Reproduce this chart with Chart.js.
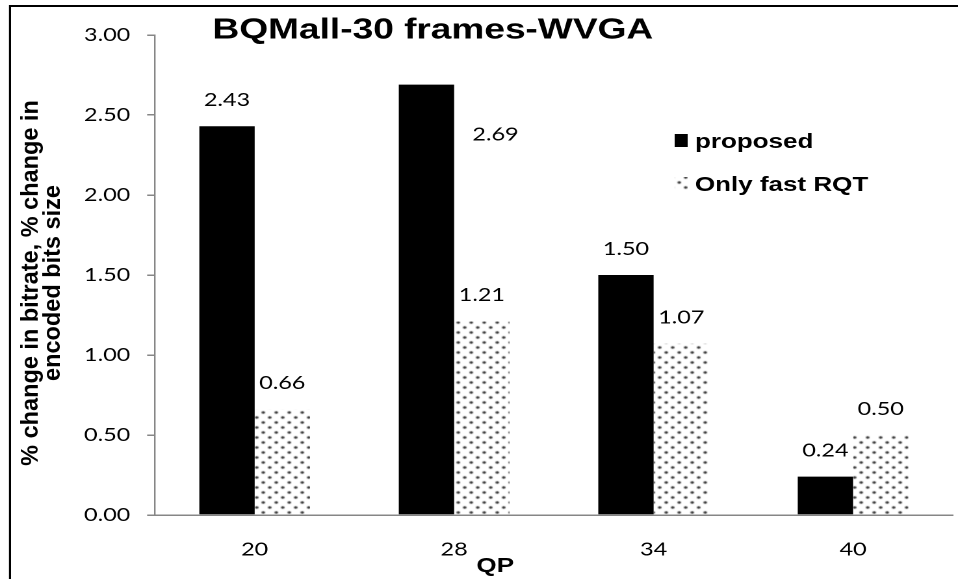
<!DOCTYPE html>
<html>
<head>
<meta charset="utf-8">
<script src="https://cdn.jsdelivr.net/npm/chart.js@4/dist/chart.umd.min.js"></script>
<style>
  html, body { margin: 0; padding: 0; background: #fff; overflow: hidden; }
  /* the figure is laid out on a narrower canvas and widened to the page */
  #wrap { position: absolute; left: 0; top: 0; width: 737px; height: 579px;
          transform-origin: 0 0; transform: scaleX(1.29986); }
  canvas { display: block; }
</style>
</head>
<body>
<div id="wrap"><canvas id="c" width="737" height="579" style="width:737px;height:579px"></canvas></div>
<script>
// ---- data ----
const categories = ['20', '28', '34', '40'];
const proposed = [2.43, 2.69, 1.50, 0.24];
const onlyFastRQT = [0.66, 1.21, 1.07, 0.50];
const yTicks = [0, 0.5, 1.0, 1.5, 2.0, 2.5, 3.0];
const seriesNames = ['proposed', 'Only fast RQT'];
const chartTitle = 'BQMall-30 frames-WVGA';
const xTitle = 'QP';
const yTitle = ['% change in bitrate, % change in', 'encoded bits size'];

const SX = 1.29986;   // horizontal widening applied to the canvas
const AXIS = '#868686';
const ARIAL = "'Liberation Sans', Arial, sans-serif";
const NUMF = "Lato, 'Liberation Sans', sans-serif";

// dotted fill for the second series
function dotPattern() {
  const t = document.createElement('canvas');
  t.width = 10; t.height = 10;
  const g = t.getContext('2d');
  g.fillStyle = '#fff';
  g.fillRect(0, 0, 10, 10);
  g.fillStyle = 'rgba(25,25,25,0.95)';
  [[2.5, 2.5], [7.5, 7.5]].forEach(([x, y]) => {
    g.beginPath(); g.arc(x, y, 1.25, 0, Math.PI * 2); g.fill();
  });
  return g.createPattern(t, 'repeat');
}
const dots = dotPattern();

const decor = {
  id: 'decor',
  afterDatasetsDraw(chart) {
    const ctx = chart.ctx;
    const area = chart.chartArea;
    ctx.save();
    ctx.fillStyle = '#000';
    ctx.font = '18px ' + NUMF;
    ctx.textBaseline = 'middle';
    chart.data.datasets.forEach((ds, di) => {
      chart.getDatasetMeta(di).data.forEach((bar, i) => {
        const txt = ds.data[i].toFixed(2);
        let x = bar.x, y = bar.y - 26;
        ctx.textAlign = 'center';
        if (y < area.top + 30) {      // no room above: put it beside the bar
          x = bar.x + bar.width / 2 + 14;
          y = bar.y + 50;
          ctx.textAlign = 'left';
        }
        ctx.fillText(txt, x, y);
      });
    });
    ctx.restore();
  },
  afterDraw(chart) {
    const ctx = chart.ctx;
    ctx.save();
    // outer frame
    ctx.strokeStyle = '#000';
    ctx.lineWidth = 1.6;
    ctx.beginPath(); ctx.moveTo(7.7, 5); ctx.lineTo(7.7, 579); ctx.stroke();
    ctx.lineWidth = 2;
    ctx.beginPath(); ctx.moveTo(7, 6); ctx.lineTo(737, 6); ctx.stroke();

    // title
    ctx.fillStyle = '#000';
    ctx.textBaseline = 'alphabetic';
    ctx.textAlign = 'center';
    ctx.font = 'bold 28.5px ' + ARIAL;
    ctx.fillText(chartTitle, 333, 38.5);

    // x axis title
    ctx.font = 'bold 20px ' + ARIAL;
    ctx.fillText(xTitle, 381, 572);

    // y axis title, upright proportions
    ctx.save();
    ctx.translate(31 / SX, 283);
    ctx.scale(1 / SX, 1);
    ctx.rotate(-Math.PI / 2);
    ctx.font = 'bold 23.5px ' + ARIAL;
    ctx.textBaseline = 'middle';
    yTitle.forEach((line, i) => ctx.fillText(line, 0, i * 22.5));
    ctx.restore();

    // legend
    ctx.textAlign = 'left';
    const fills = chart.data.datasets.map(d => d.backgroundColor);
    const rows = [148, 191];
    seriesNames.forEach((name, i) => {
      ctx.fillStyle = fills[i];
      ctx.fillRect(519, rows[i] - 14, 10, 13);
      ctx.fillStyle = '#000';
      ctx.font = 'bold 20px ' + ARIAL;
      ctx.fillText(name, 534.6, rows[i]);
    });
    ctx.restore();
  }
};

new Chart(document.getElementById('c'), {
  type: 'bar',
  data: {
    labels: categories,
    datasets: [
      { label: seriesNames[0], data: proposed, backgroundColor: '#000', borderWidth: 0 },
      { label: seriesNames[1], data: onlyFastRQT, backgroundColor: dots, borderWidth: 0 }
    ]
  },
  options: {
    responsive: false,
    animation: false,
    devicePixelRatio: 2,
    layout: { padding: { top: 35, right: 4, left: 0, bottom: 0 } },
    categoryPercentage: 0.555,
    barPercentage: 1.0,
    plugins: { legend: { display: false }, tooltip: { enabled: false }, title: { display: false } },
    scales: {
      x: {
        grid: { display: false, drawTicks: false },
        border: { display: true, color: AXIS, width: 1.5 },
        ticks: { color: '#000', font: { family: NUMF, size: 18 }, padding: 24 },
        afterFit: s => { s.height = 64; }
      },
      y: {
        min: 0, max: 3,
        grid: { drawOnChartArea: false, drawTicks: true, tickLength: 6, color: AXIS, lineWidth: 1.5 },
        border: { display: true, color: AXIS, width: 1.2 },
        ticks: { color: '#000', font: { family: NUMF, size: 18 }, padding: 13,
                 callback: v => Number(v).toFixed(2) },
        afterBuildTicks: s => { s.ticks = yTicks.map(v => ({ value: v })); },
        afterFit: s => { s.width = 119.2; }
      }
    }
  },
  plugins: [decor]
});
</script>
</body>
</html>
